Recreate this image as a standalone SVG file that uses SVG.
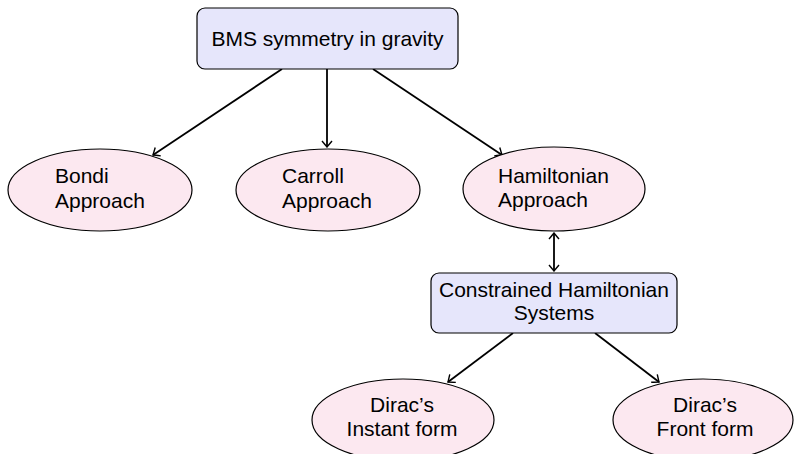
<svg xmlns="http://www.w3.org/2000/svg" width="794" height="454" viewBox="0 0 794 454">
<defs>
<style>
.box{fill:#e6e6fb;stroke:#000;stroke-width:1.2}
.ell{fill:#fce8f0;stroke:#000;stroke-width:1.2}
.t{font-family:"Liberation Sans",Arial,sans-serif;font-size:21px;fill:#000}
.c{text-anchor:middle}
.e{stroke:#000;stroke-width:1.8;fill:none}
</style>
<marker id="ah" viewBox="-8 -6 10 12" refX="0" refY="0" markerWidth="10" markerHeight="12" markerUnits="userSpaceOnUse" orient="auto-start-reverse">
<path d="M-6,-5 Q-1.5,-1.2 0,0 Q-1.5,1.2 -6,5" fill="none" stroke="#000" stroke-width="1.4"/>
</marker>
</defs>
<rect width="794" height="454" fill="#fff"/>
<g id="connectors">
<line class="e" x1="282" y1="69" x2="153" y2="155" marker-end="url(#ah)"/>
<line class="e" x1="327" y1="69" x2="327" y2="147" marker-end="url(#ah)"/>
<line class="e" x1="373" y1="69" x2="502" y2="155" marker-end="url(#ah)"/>
<line class="e" x1="554" y1="233" x2="554" y2="271" marker-start="url(#ah)" marker-end="url(#ah)"/>
<line class="e" x1="513" y1="333" x2="448" y2="382" marker-end="url(#ah)"/>
<line class="e" x1="595" y1="333" x2="659" y2="382" marker-end="url(#ah)"/>
</g>
<g id="bms">
<rect class="box" x="197" y="8" width="261" height="61" rx="8"/>
<text class="t c" x="327.500" y="46">BMS symmetry in gravity</text>
</g>
<g id="bondi">
<ellipse class="ell" cx="100" cy="190" rx="92" ry="41"/>
<text class="t" x="55" y="183">Bondi</text>
<text class="t" x="55" y="208">Approach</text>
</g>
<g id="carroll">
<ellipse class="ell" cx="328" cy="190" rx="92" ry="41"/>
<text class="t" x="282" y="183">Carroll</text>
<text class="t" x="282" y="208">Approach</text>
</g>
<g id="hamiltonian">
<ellipse class="ell" cx="554" cy="189" rx="91" ry="42"/>
<text class="t" x="498" y="183">Hamiltonian</text>
<text class="t" x="498" y="207">Approach</text>
</g>
<g id="constrained">
<rect class="box" x="431" y="273" width="246" height="60" rx="8"/>
<text class="t c" x="554" y="297">Constrained Hamiltonian</text>
<text class="t c" x="554" y="320">Systems</text>
</g>
<g id="instant">
<ellipse class="ell" cx="403" cy="420" rx="91" ry="41"/>
<text class="t c" x="402" y="412">Dirac’s</text>
<text class="t c" x="402" y="436">Instant form</text>
</g>
<g id="front">
<ellipse class="ell" cx="703" cy="420" rx="90" ry="41"/>
<text class="t c" x="705" y="412">Dirac’s</text>
<text class="t c" x="705" y="436">Front form</text>
</g>
</svg>
